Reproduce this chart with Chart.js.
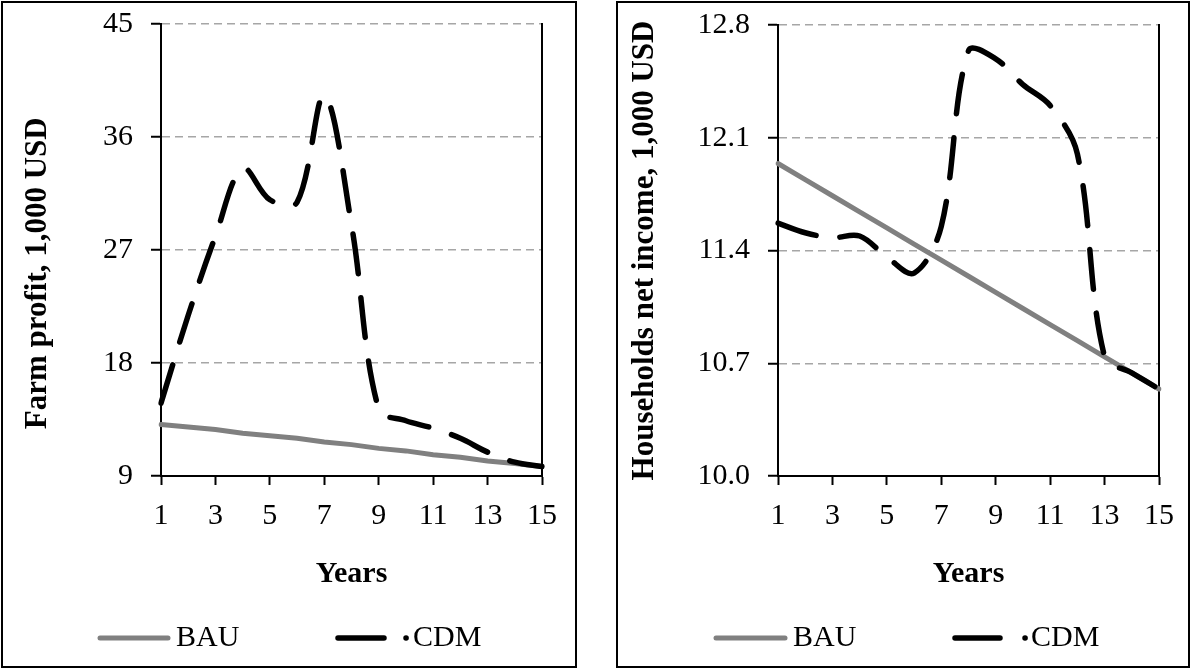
<!DOCTYPE html>
<html>
<head>
<meta charset="utf-8">
<script src="https://cdn.jsdelivr.net/npm/chart.js@4.4.1/dist/chart.umd.min.js"></script>
<style>
  html, body { margin: 0; padding: 0; background: #fff; }
  .box { position: absolute; top: 1px; height: 663px; border: 2px solid #000; }
  #leftBox { left: 1px; width: 572px; }
  #rightBox { left: 616px; width: 570px; }
  canvas { display: block; }
</style>
</head>
<body>
<div class="box" id="leftBox"><canvas id="farmChart"></canvas></div>
<div class="box" id="rightBox"><canvas id="incomeChart"></canvas></div>
<script>
// Years on the x axis, ticks shown every other year
const years = [1, 2, 3, 4, 5, 6, 7, 8, 9, 10, 11, 12, 13, 14, 15];
const xTicks = [1, 3, 5, 7, 9, 11, 13, 15];

// Left panel: farm profit, 1,000 USD
const farmBAU = [13.1, 12.9, 12.7, 12.4, 12.2, 12.0, 11.7, 11.5, 11.2, 11.0, 10.7, 10.5, 10.2, 10.0, 9.75];
const farmCDM = [14.8, 21.8, 28.1, 33.5, 31.0, 30.8, 39.3, 29.0, 14.3, 13.4, 12.8, 12.0, 10.9, 10.1, 9.75];
const farmTicks = [9, 18, 27, 36, 45];

// Right panel: households net income, 1,000 USD
const incomeBAU = [11.94, 11.84, 11.74, 11.64, 11.54, 11.44, 11.34, 11.24, 11.14, 11.04, 10.94, 10.84, 10.74, 10.64, 10.54];
const incomeCDM = [11.57, 11.51, 11.48, 11.49, 11.36, 11.26, 11.55, 12.64, 12.59, 12.43, 12.30, 12.00, 10.74, 10.64, 10.54];
const incomeTicks = [10.0, 10.7, 11.4, 12.1, 12.8];

Chart.defaults.font.family = '"Liberation Serif", "Times New Roman", serif';
Chart.defaults.font.size = 30;
Chart.defaults.color = '#000';

// legend drawn as a single row under the axis title
const legendRow = {
  id: 'legendRow',
  afterDraw(chart, args, opts) {
    const ctx = chart.ctx;
    ctx.save();
    ctx.lineCap = 'round';
    ctx.font = '30px "Liberation Serif", serif';
    ctx.textBaseline = 'middle';
    ctx.fillStyle = '#000';
    opts.items.forEach(it => {
      const ds = chart.data.datasets[it.dataset];
      ctx.strokeStyle = ds.borderColor;
      ctx.lineWidth = ds.borderWidth;
      ctx.setLineDash(it.dash);
      ctx.beginPath();
      ctx.moveTo(it.x0, opts.y);
      ctx.lineTo(it.x1, opts.y);
      ctx.stroke();
      ctx.setLineDash([]);
      ctx.fillText(ds.label, it.tx, opts.y);
    });
    ctx.restore();
  }
};

// keep label overflow from pushing the plot area around
function noPad(axis) {
  axis.paddingTop = 0;
  axis.paddingBottom = 0;
  axis.paddingLeft = 0;
  axis.paddingRight = 0;
}

function makeChart(id, cfg) {
  const ctx = document.getElementById(id).getContext('2d');
  return new Chart(ctx, {
    type: 'line',
    data: {
      labels: years,
      datasets: [
        {
          label: 'BAU',
          data: cfg.bau,
          borderColor: '#808080',
          borderWidth: 5,
          borderCapStyle: 'round',
          pointRadius: 0,
          tension: 0,
          order: 1
        },
        {
          label: 'CDM',
          data: cfg.cdm,
          borderColor: '#000000',
          borderWidth: 5.5,
          borderDash: [40, 24],
          borderCapStyle: 'round',
          pointRadius: 0,
          tension: 0.35,
          order: 0
        }
      ]
    },
    options: {
      responsive: true,
      maintainAspectRatio: false,
      animation: false,
      layout: { padding: { top: cfg.padTop, right: cfg.padRight, left: 0, bottom: 0 } },
      plugins: {
        legend: { display: false },
        tooltip: { enabled: false },
        legendRow: { y: 635, items: cfg.legend }
      },
      scales: {
        x: {
          type: 'category',
          offset: false,
          afterBuildTicks: axis => { axis.ticks = xTicks.map(v => ({ value: years.indexOf(v) })); },
          afterFit: axis => { axis.height = 663 - 473; noPad(axis); },
          grid: { display: true, drawOnChartArea: false, drawTicks: true, tickLength: 9, tickColor: '#000', tickWidth: 2 },
          border: { display: true, color: '#000', width: 2 },
          ticks: { padding: 13, maxRotation: 0, autoSkip: false, font: { size: 30 } },
          title: { display: true, text: 'Years', font: { size: 30, weight: 'bold' }, padding: { top: 0, bottom: 74 } }
        },
        y: {
          min: cfg.yMin,
          max: cfg.yMax,
          afterBuildTicks: axis => { axis.ticks = cfg.ticks.map(v => ({ value: v })); },
          afterFit: axis => { axis.width = cfg.yWidth; noPad(axis); },
          grid: {
            color: c => (c.index === 0 ? 'rgba(0,0,0,0)' : '#a6a6a6'),
            lineWidth: 1.5,
            drawTicks: true,
            tickLength: 10,
            tickColor: '#000',
            tickWidth: 2,
            tickBorderDash: []
          },
          border: { display: true, color: '#000', width: 2, dash: [8, 5] },
          ticks: { padding: 18, callback: v => v.toFixed(cfg.decimals), font: { size: 30 } },
          title: { display: true, text: cfg.yTitle, font: { size: 31, weight: 'bold' }, padding: { top: cfg.titlePad, bottom: 0 } }
        },
        yEdge: {
          position: 'right',
          min: 0,
          max: 1,
          afterFit: axis => { axis.width = 0; noPad(axis); },
          ticks: { display: false },
          grid: { display: false },
          border: { display: true, color: '#000', width: 2 }
        }
      }
    },
    plugins: [legendRow]
  });
}

makeChart('farmChart', {
  bau: farmBAU,
  cdm: farmCDM,
  yMin: 9, yMax: 45, ticks: farmTicks, decimals: 0,
  // trailing spaces push the title a little below the middle of the axis, as in the source
  yTitle: 'Farm profit, 1,000 USD      ',
  yWidth: 158, padTop: 21, padRight: 33, titlePad: 16,
  legend: [
    { dataset: 0, x0: 97, x1: 165, tx: 173, dash: [] },
    { dataset: 1, x0: 335, x1: 404, tx: 410, dash: [46, 22, 0.1, 200] }
  ]
});

makeChart('incomeChart', {
  bau: incomeBAU,
  cdm: incomeCDM,
  yMin: 10, yMax: 12.8, ticks: incomeTicks, decimals: 1,
  yTitle: 'Households net income, 1,000 USD',
  yWidth: 160, padTop: 22, padRight: 29, titlePad: 8,
  legend: [
    { dataset: 0, x0: 98, x1: 167, tx: 175, dash: [] },
    { dataset: 1, x0: 337, x1: 408, tx: 413, dash: [45, 25, 0.1, 200] }
  ]
});
</script>
</body>
</html>
